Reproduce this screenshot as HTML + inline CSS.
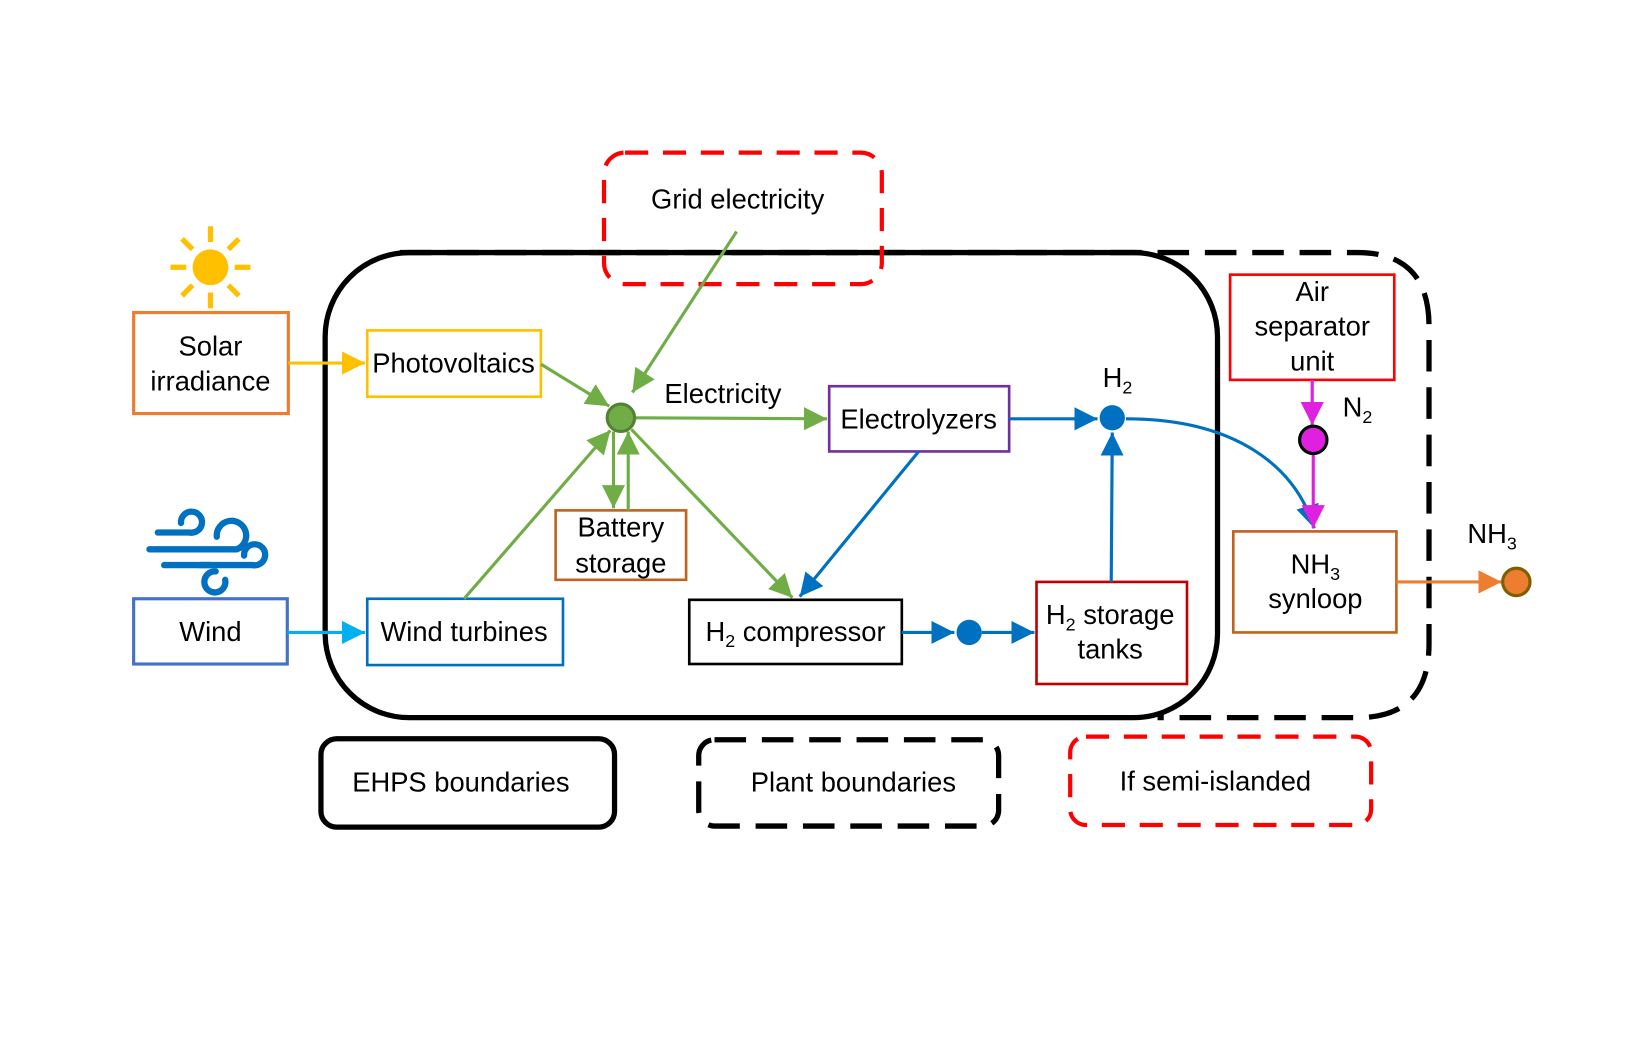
<!DOCTYPE html>
<html><head><meta charset="utf-8"><style>
html,body{margin:0;padding:0;background:#fff;}
svg{display:block;}
text{font-family:"Liberation Sans",Arial,sans-serif;font-size:26px;fill:#000;text-anchor:middle;}
</style></head><body>
<svg width="1650" height="1050" viewBox="0 0 1568 997.8" xmlns="http://www.w3.org/2000/svg">
<defs>
<marker id="mg" markerUnits="userSpaceOnUse" markerWidth="24" markerHeight="22" refX="22" refY="11" orient="auto"><path d="M0,0 L22,11 L0,22 z" fill="#70AD47"/></marker>
<marker id="mb" markerUnits="userSpaceOnUse" markerWidth="24" markerHeight="22" refX="22" refY="11" orient="auto"><path d="M0,0 L22,11 L0,22 z" fill="#0070C0"/></marker>
<marker id="mm" markerUnits="userSpaceOnUse" markerWidth="24" markerHeight="22" refX="22" refY="11" orient="auto"><path d="M0,0 L22,11 L0,22 z" fill="#E020E0"/></marker>
<marker id="my" markerUnits="userSpaceOnUse" markerWidth="24" markerHeight="22" refX="22" refY="11" orient="auto"><path d="M0,0 L22,11 L0,22 z" fill="#FFC000"/></marker>
<marker id="mc" markerUnits="userSpaceOnUse" markerWidth="24" markerHeight="22" refX="22" refY="11" orient="auto"><path d="M0,0 L22,11 L0,22 z" fill="#00B0F0"/></marker>
<marker id="mo" markerUnits="userSpaceOnUse" markerWidth="24" markerHeight="22" refX="22" refY="11" orient="auto"><path d="M0,0 L22,11 L0,22 z" fill="#ED7D31"/></marker>
</defs>
<rect width="1568" height="998" fill="#fff"/>

<rect x="309" y="240" width="848" height="442" rx="80" fill="none" stroke="#000" stroke-width="5"/>
<path d="M380 240 H1290 Q1358 240 1358 310 V612 Q1358 682 1290 682 H1100" fill="none" stroke="#000" stroke-width="5" stroke-dasharray="30,15"/>
<rect x="574" y="145" width="264" height="125" rx="20" fill="none" stroke="#FF0000" stroke-width="4" stroke-dasharray="22,14"/>
<text x="701" y="198">Grid electricity</text>

<g stroke="#FFC000" stroke-width="5">
<line x1="200" y1="215" x2="200" y2="230"/><line x1="200" y1="278" x2="200" y2="293"/>
<line x1="162" y1="254" x2="177" y2="254"/><line x1="223" y1="254" x2="238" y2="254"/>
<line x1="173" y1="227" x2="183" y2="237"/><line x1="217" y1="271" x2="227" y2="281"/>
<line x1="227" y1="227" x2="217" y2="237"/><line x1="183" y1="271" x2="173" y2="281"/>
</g>
<circle cx="200" cy="254" r="17" fill="#FFC000"/>
<g fill="none" stroke="#0070C0" stroke-width="6" stroke-linecap="round">
<path d="M150 506 H180 A10 10 0 1 0 172 497"/>
<path d="M142 522 H225 A14 14 0 1 0 206 510"/>
<path d="M156 537 H240 A10 10 0 1 0 232 528"/>
<path d="M200 537 H190 M205 543 A10 10 0 1 0 214 551"/>
</g>

<rect x="127" y="297" width="147" height="96" fill="none" stroke="#ED7D31" stroke-width="3"/>
<text x="200" y="338">Solar</text><text x="200" y="371">irradiance</text>
<rect x="127" y="569" width="146" height="62" fill="none" stroke="#4472C4" stroke-width="3"/>
<text x="200" y="609">Wind</text>
<rect x="349" y="314" width="165" height="63" fill="none" stroke="#FFC000" stroke-width="2.5"/>
<text x="431" y="354">Photovoltaics</text>
<rect x="349" y="569" width="186" height="63" fill="none" stroke="#0070C0" stroke-width="2.5"/>
<text x="441" y="609">Wind turbines</text>
<rect x="528" y="485" width="124" height="66" fill="none" stroke="#C0631F" stroke-width="2.5"/>
<text x="590" y="510">Battery</text><text x="590" y="544">storage</text>
<rect x="788" y="367" width="171" height="62" fill="none" stroke="#7030A0" stroke-width="2.5"/>
<text x="873" y="407">Electrolyzers</text>
<rect x="655" y="570" width="202" height="61" fill="none" stroke="#000" stroke-width="2.5"/>
<text x="756" y="609">H<tspan font-size="17" dy="6">2</tspan><tspan dy="-6"> compressor</tspan></text>
<rect x="985" y="553" width="143" height="97" fill="none" stroke="#C00000" stroke-width="2.5"/>
<text x="1055" y="593">H<tspan font-size="17" dy="6">2</tspan><tspan dy="-6"> storage</tspan></text><text x="1055" y="626">tanks</text>
<rect x="1169" y="261" width="156" height="100" fill="none" stroke="#FF0000" stroke-width="2.5"/>
<text x="1247" y="286">Air</text><text x="1247" y="319">separator</text><text x="1247" y="352">unit</text>
<rect x="1172" y="505" width="155" height="96" fill="none" stroke="#C0631F" stroke-width="2.5"/>
<text x="1250" y="545">NH<tspan font-size="17" dy="6">3</tspan></text><text x="1250" y="578">synloop</text>

<text x="687" y="383">Electricity</text>
<text x="1062" y="368">H<tspan font-size="17" dy="6">2</tspan></text>
<text x="1290" y="396">N<tspan font-size="17" dy="6">2</tspan></text>
<text x="1418" y="516">NH<tspan font-size="17" dy="6">3</tspan></text>

<g stroke="#70AD47" stroke-width="3" fill="none">
<line x1="700" y1="220" x2="601" y2="373" marker-end="url(#mg)"/>
<line x1="514" y1="346" x2="579" y2="386" marker-end="url(#mg)"/>
<line x1="603" y1="397" x2="786" y2="398" marker-end="url(#mg)"/>
<line x1="583" y1="410" x2="583" y2="483" marker-end="url(#mg)"/>
<line x1="597" y1="485" x2="597" y2="410" marker-end="url(#mg)"/>
<line x1="441" y1="569" x2="580" y2="409" marker-end="url(#mg)"/>
<line x1="600" y1="408" x2="753" y2="568" marker-end="url(#mg)"/>
</g>
<g stroke="#0070C0" stroke-width="3" fill="none">
<line x1="959" y1="398" x2="1043" y2="398" marker-end="url(#mb)"/>
<line x1="873" y1="429" x2="760" y2="567" marker-end="url(#mb)"/>
<line x1="857" y1="601" x2="907" y2="601" marker-end="url(#mb)"/>
<line x1="933" y1="601" x2="983" y2="601" marker-end="url(#mb)"/>
<line x1="1056" y1="553" x2="1057" y2="411" marker-end="url(#mb)"/>
<path d="M1070 398 C1170 398 1230 440 1249 502" marker-end="url(#mb)"/>
</g>
<g stroke="#E020E0" stroke-width="3" fill="none">
<line x1="1247" y1="361" x2="1247" y2="404" marker-end="url(#mm)"/>
<line x1="1248" y1="432" x2="1248" y2="502" marker-end="url(#mm)"/>
</g>
<line x1="274" y1="345" x2="347" y2="345" stroke="#FFC000" stroke-width="3" marker-end="url(#my)"/>
<line x1="273" y1="601" x2="347" y2="601" stroke="#00B0F0" stroke-width="3" marker-end="url(#mc)"/>
<line x1="1327" y1="553" x2="1427" y2="553" stroke="#ED7D31" stroke-width="3" marker-end="url(#mo)"/>

<circle cx="590" cy="397" r="13" fill="#70AD47" stroke="#548235" stroke-width="3"/>
<circle cx="921" cy="601" r="12" fill="#0070C0"/>
<circle cx="1057" cy="397" r="12" fill="#0070C0"/>
<circle cx="1248" cy="418" r="13" fill="#E020E0" stroke="#000" stroke-width="3"/>
<circle cx="1441" cy="553" r="13" fill="#ED7D31" stroke="#7F6000" stroke-width="3"/>

<rect x="305" y="702" width="279" height="84" rx="15" fill="none" stroke="#000" stroke-width="5"/>
<text x="438" y="752">EHPS boundaries</text>
<rect x="664" y="703" width="285" height="82" rx="15" fill="none" stroke="#000" stroke-width="5" stroke-dasharray="30,15"/>
<text x="811" y="752">Plant boundaries</text>
<rect x="1017" y="700" width="286" height="84" rx="15" fill="none" stroke="#FF0000" stroke-width="4" stroke-dasharray="22,14"/>
<text x="1155" y="751">If semi-islanded</text>
</svg>
</body></html>
